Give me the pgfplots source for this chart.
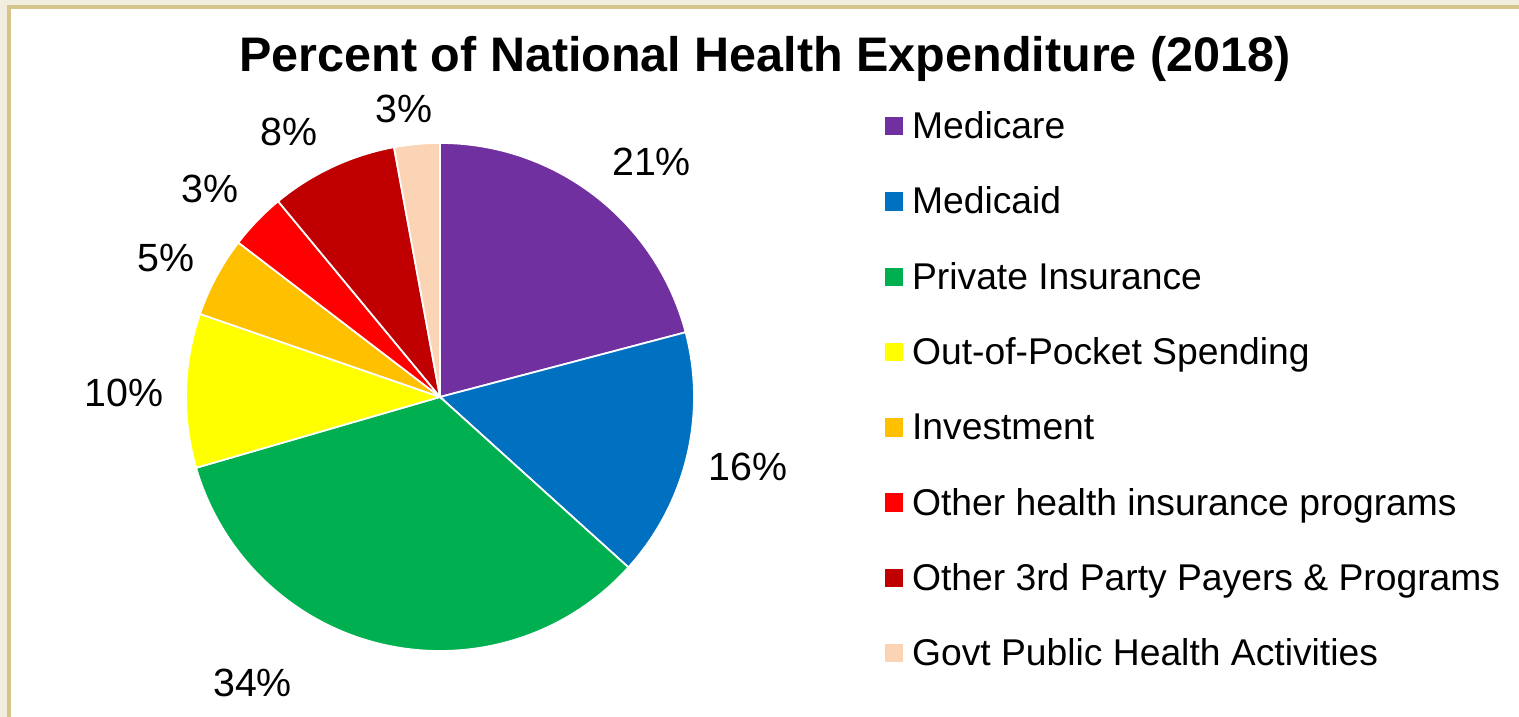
\documentclass[border=0pt]{standalone}
\usepackage{pgfplots}
\usepackage{pgfplotstable}
\pgfplotsset{compat=1.18}
\usepackage{fontspec}
\setmainfont{Liberation Sans}

\definecolor{medicare}{HTML}{7030A0}
\definecolor{medicaid}{HTML}{0070C0}
\definecolor{private}{HTML}{00B050}
\definecolor{outpocket}{HTML}{FFFF00}
\definecolor{investment}{HTML}{FFC000}
\definecolor{otherins}{HTML}{FF0000}
\definecolor{thirdparty}{HTML}{C00000}
\definecolor{govt}{HTML}{FAD4B4}
\definecolor{cream}{HTML}{F1EEDF}
\definecolor{frameline}{HTML}{D6C58A}

% share of NHE (percent, as drawn), printed label, slice colour,
% label position (axis units, radius = 1)
\pgfplotstableread{
pct lbl col lx ly
20.9 21 medicare 0.833 0.925
15.8 16 medicaid 1.213 -0.276
33.8 34 private -0.738 -1.124
9.8 10 outpocket -1.244 0.016
5.1 5 investment -1.079 0.547
3.6 3 otherins -0.906 0.821
8.1 8 thirdparty -0.596 1.043
2.9 3 govt -0.142 1.134
}\piedata

\begin{document}
\begin{tikzpicture}[x=1cm,y=1cm]
\path[use as bounding box] (0,0) rectangle (15.19,7.17);
\fill[cream] (0,0) rectangle (15.19,7.17);
\fill[white] (0.09,0) rectangle (15.19,7.10);
\draw[frameline, line width=1.2pt] (0.09,0) -- (0.09,7.10) -- (15.19,7.10);
\begin{axis}[
  at={(4.40cm,3.20cm)}, anchor=center,
  scale only axis, width=5.08cm, height=5.08cm,
  xmin=-1, xmax=1, ymin=-1, ymax=1,
  hide axis, clip=false,
  title={Percent of National Health Expenditure (2018)},
  title style={at={(axis description cs:1.1398,1.100)}, anchor=base,
    inner sep=0pt, font=\bfseries\fontsize{13.8}{16}\selectfont},
  legend image code/.code={\fill[#1] (0cm,0.04cm) rectangle (0.17cm,0.21cm);},
  legend cell align=left,
  legend style={at={(axis description cs:1.374,1.069)}, anchor=north west,
    draw=none, fill=none, inner sep=0pt, row sep=0.353cm, column sep=0.09cm,
    font=\fontsize{10.6}{12}\selectfont,
    nodes={inner sep=0pt, text height=0.3cm, text depth=0.1cm, anchor=base west}},
]
\pgfplotstablegetrowsof{\piedata}
\pgfmathtruncatemacro\lastrow{\pgfplotsretval-1}
\def\startangle{90}
\pgfplotsforeachungrouped \i in {0,...,\lastrow}{%
  \pgfplotstablegetelem{\i}{pct}\of\piedata \let\pct\pgfplotsretval
  \pgfplotstablegetelem{\i}{lbl}\of\piedata \let\lbl\pgfplotsretval
  \pgfplotstablegetelem{\i}{col}\of\piedata \let\col\pgfplotsretval
  \pgfplotstablegetelem{\i}{lx}\of\piedata \let\lx\pgfplotsretval
  \pgfplotstablegetelem{\i}{ly}\of\piedata \let\ly\pgfplotsretval
  \pgfmathsetmacro\endangle{\startangle-3.6*\pct}
  \edef\slice{%
    \noexpand\fill[fill=\col, draw=white, line width=0.5pt]
      (axis cs:0,0) -- (axis cs:{cos(\startangle)},{sin(\startangle)})
      arc[start angle=\startangle, end angle=\endangle, radius=2.54cm] -- cycle;
    \noexpand\node[inner sep=0pt, font=\noexpand\fontsize{11.2}{13}\noexpand\selectfont]
      at (axis cs:\lx,\ly) {\lbl\noexpand\%};
  }%
  \slice
  \let\startangle\endangle
}
\addlegendimage{medicare}\addlegendentry{Medicare}
\addlegendimage{medicaid}\addlegendentry{Medicaid}
\addlegendimage{private}\addlegendentry{Private Insurance}
\addlegendimage{outpocket}\addlegendentry{Out-of-Pocket Spending}
\addlegendimage{investment}\addlegendentry{Investment}
\addlegendimage{otherins}\addlegendentry{Other health insurance programs}
\addlegendimage{thirdparty}\addlegendentry{Other 3rd Party Payers \& Programs}
\addlegendimage{govt}\addlegendentry{Govt Public Health Activities}
\end{axis}
\end{tikzpicture}
\end{document}
